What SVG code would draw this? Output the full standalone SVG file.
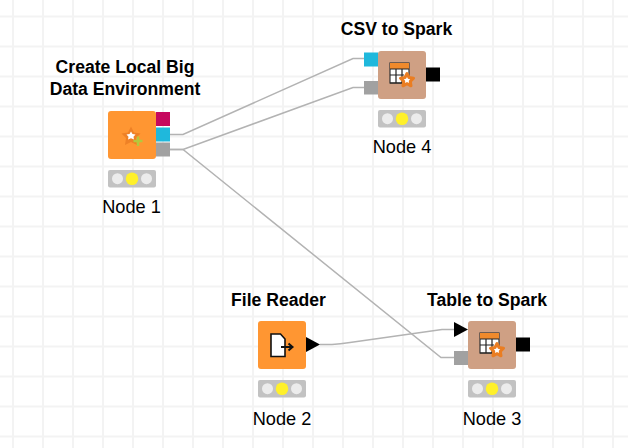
<svg xmlns="http://www.w3.org/2000/svg" width="628" height="448" viewBox="0 0 628 448">
<style>
.grid{stroke:#f3f3f3;stroke-width:2;fill:none}
.conn{stroke:#b3b3b3;stroke-width:1.5;fill:none}
.t{font-family:"Liberation Sans",Arial,sans-serif;fill:#000;text-anchor:middle}
.title{font-size:17.6px;font-weight:700}
.label{font-size:18.2px}
.tl{fill:#c2c2c2}
.off{fill:#ececec}
.on{fill:#fff02a}
.src{fill:#ff9632}
.mgr{fill:#cfa084}
.gray{fill:#a1a1a1}
.cyan{fill:#1fb8dc}
</style>
<defs>
<g id="lights"><rect class="tl" width="48" height="17.500" rx="2"/><circle class="off" cx="9.500" cy="8.700" r="5.500"/><circle class="on" cx="24" cy="8.700" r="6.300"/><circle class="off" cx="38.500" cy="8.700" r="5.500"/></g>
<g id="sparkicon"><rect x="-10" y="-13" width="19" height="20" fill="#fff" stroke="#333" stroke-width="1.200"/><rect x="-10" y="-13" width="19" height="6" fill="#f08a2c"/><path d="M-10-7H9M-10-1H4M-10 7H2M-4-7V7M2-7V7" stroke="#222" stroke-width="1.200" fill="none"/><path d="M7-2.500L9 1.500 13.500 2.200 10.300 5.300 11 9.800 7 7.700 3 9.800 3.700 5.300 .5 2.200 5 1.500Z" fill="#fff" stroke="#ea7d22" stroke-width="3" stroke-linejoin="round"/></g>
</defs>
<rect width="628" height="448" fill="#fff"/>
<path class="grid" d="M13 0V448M43 0V448M73 0V448M103 0V448M133 0V448M163 0V448M193 0V448M223 0V448M253 0V448M283 0V448M313 0V448M343 0V448M373 0V448M403 0V448M433 0V448M463 0V448M493 0V448M523 0V448M553 0V448M583 0V448M613 0V448M0 16.500H628M0 46.500H628M0 76.500H628M0 106.500H628M0 136.500H628M0 166.500H628M0 196.500H628M0 226.500H628M0 256.500H628M0 286.500H628M0 316.500H628M0 346.500H628M0 376.500H628M0 406.500H628M0 436.500H628"/>
<g id="connectors">
<path class="conn" d="M170 134.500H183L353 58.500H364"/>
<path class="conn" d="M170 149.500H183L441 357.500H454"/>
<path class="conn" d="M170 149.500H183L353 87.500H364"/>
<path class="conn" d="M320 344.500H332Q340 344 350 342.500L442 329.500H454"/>
</g>
<g id="node1">
<text class="t title" x="125" y="73">Create Local Big</text>
<text class="t title" x="125" y="95">Data Environment</text>
<rect class="src" x="108" y="111" width="48" height="48" rx="3"/>
<path d="M131 126.500L134 132.500 140.500 133.500 136 138 137 145 131 142 125 145 126 138 121.500 133.500 128 132.500Z" fill="#ee8126"/>
<path d="M131 131.500L132.500 134 135.500 134.500 133.500 136.800 134 139.500 131 138.300 128 139.500 128.500 136.800 126.500 134.500 129.500 134Z" fill="#fff"/>
<path d="M138 136.500V146M133.500 141H142.500" stroke="#b5c83c" stroke-width="2.500"/>
<rect x="156" y="112" width="14" height="14" fill="#c6085e"/>
<rect class="cyan" x="156" y="127.500" width="14" height="14"/>
<rect class="gray" x="156" y="142.500" width="14" height="14"/>
<use href="#lights" x="108" y="170"/>
<text class="t label" x="131.500" y="213">Node 1</text>
</g>
<g id="node4">
<text class="t title" x="396.500" y="35">CSV to Spark</text>
<rect class="mgr" x="378" y="51" width="48" height="48" rx="3"/>
<use href="#sparkicon" x="400" y="76"/>
<rect class="cyan" x="364" y="52.500" width="14" height="14"/>
<rect class="gray" x="364" y="81" width="14" height="13.500"/>
<rect x="426" y="67.500" width="14" height="14" fill="#000"/>
<use href="#lights" x="378" y="110"/>
<text class="t label" x="402" y="153">Node 4</text>
</g>
<g id="node2">
<text class="t title" x="278.500" y="306">File Reader</text>
<rect class="src" x="258" y="321" width="48" height="48" rx="3"/>
<path d="M271 334H280.500L285 339V356.500H271Z" fill="#fff" stroke="#111" stroke-width="1.600"/>
<path d="M281 347H292M288.500 343.500L292.500 347 288.500 350.500" fill="none" stroke="#111" stroke-width="2"/>
<path d="M306 337L320 344.500 306 352Z" fill="#000"/>
<use href="#lights" x="258" y="380"/>
<text class="t label" x="282" y="425">Node 2</text>
</g>
<g id="node3">
<text class="t title" x="487" y="306">Table to Spark</text>
<rect class="mgr" x="468" y="321" width="48" height="48" rx="3"/>
<use href="#sparkicon" x="490" y="346"/>
<path d="M454 322L468 329.500 454 337Z" fill="#000"/>
<rect class="gray" x="454" y="351" width="14" height="14"/>
<rect x="516" y="337.500" width="14" height="14" fill="#000"/>
<use href="#lights" x="468" y="380"/>
<text class="t label" x="492" y="425">Node 3</text>
</g>
</svg>
